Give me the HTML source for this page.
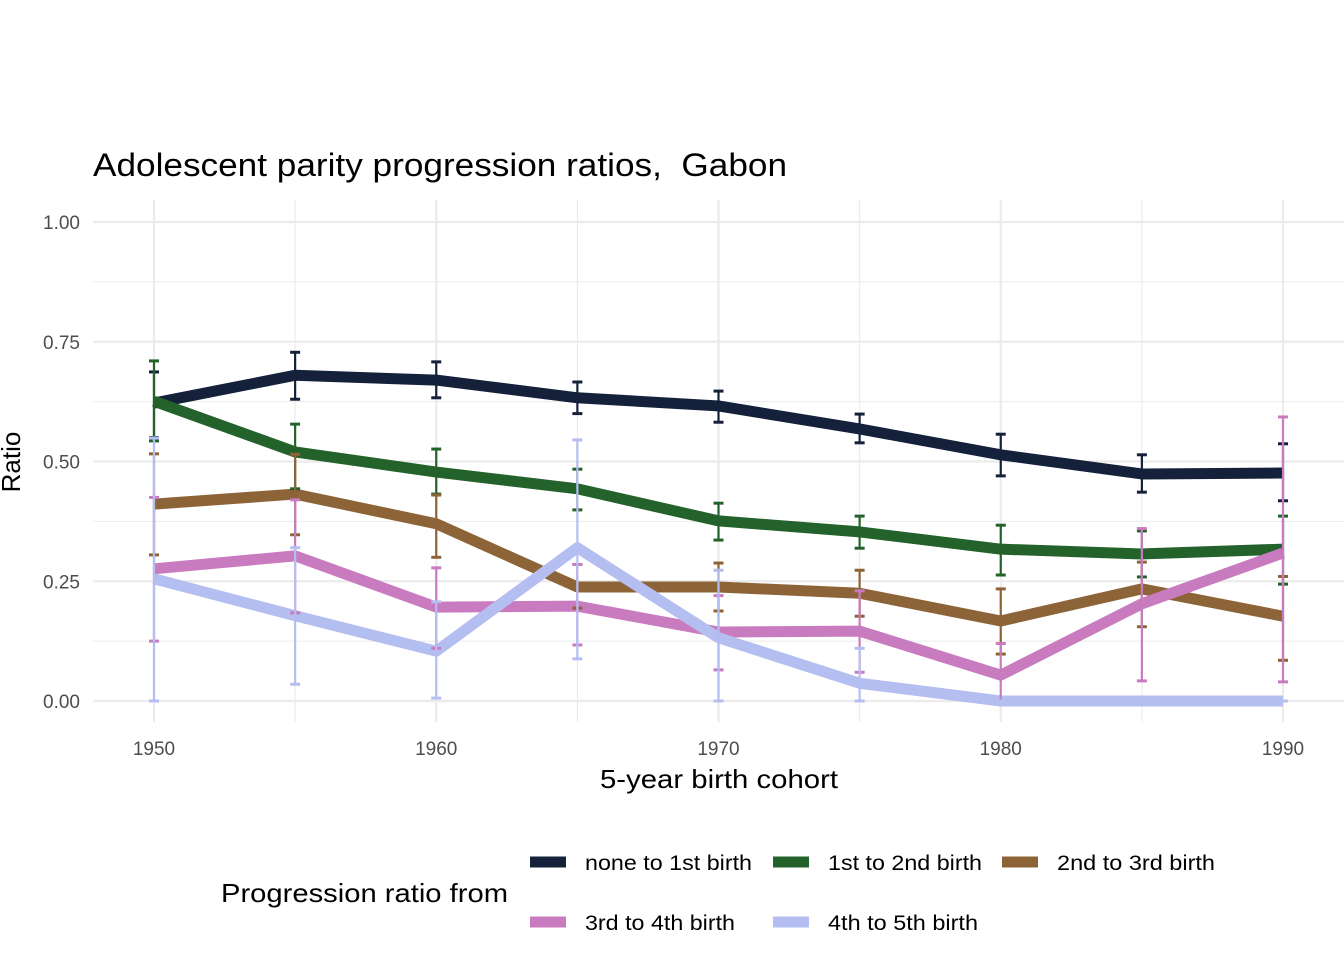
<!DOCTYPE html>
<html><head><meta charset="utf-8"><style>
body{margin:0;background:#fff;width:1344px;height:960px;overflow:hidden;font-family:"Liberation Sans",Arial,sans-serif}
</style></head><body>
<svg id="chart" width="1344" height="960" xmlns="http://www.w3.org/2000/svg">
<text x="93" y="176" font-size="32" fill="#000" textLength="694" lengthAdjust="spacingAndGlyphs">Adolescent parity progression ratios,&#160; Gabon</text>
<g id="grid"></g>
<g id="axes"></g>
<g id="lines"></g>
<g id="bars"></g>
<text x="600" y="788" font-size="26" textLength="238" lengthAdjust="spacingAndGlyphs" fill="#000">5-year birth cohort</text>
<text transform="translate(20,462) rotate(-90)" font-size="26" text-anchor="middle" fill="#000">Ratio</text>
<g id="legend">
<text x="221" y="902" font-size="26" fill="#000" textLength="287" lengthAdjust="spacingAndGlyphs">Progression ratio from</text>
</g>
</svg>
<script>
const cohorts=[1950,1955,1960,1965,1970,1975,1980,1985,1990];
const seriesNames=["none to 1st birth","1st to 2nd birth","2nd to 3rd birth","3rd to 4th birth","4th to 5th birth"];
const colors=["#15213a","#23622b","#8d6438","#c97bbf","#b5bef0"];
const s0=[0.622,0.68,0.67,0.633,0.616,0.568,0.514,0.474,0.476];
const s0hi=[0.687,0.728,0.708,0.666,0.647,0.599,0.557,0.514,0.537];
const s0lo=[0.55,0.63,0.633,0.6,0.582,0.539,0.47,0.436,0.418];
const s1=[0.626,0.52,0.478,0.443,0.376,0.353,0.317,0.307,0.317];
const s1hi=[0.71,0.578,0.526,0.484,0.413,0.386,0.367,0.355,0.386];
const s1lo=[0.543,0.443,0.432,0.399,0.336,0.319,0.263,0.259,0.244];
const s2=[0.411,0.432,0.37,0.238,0.238,0.225,0.167,0.234,0.177];
const s2hi=[0.516,0.515,0.43,0.285,0.288,0.273,0.234,0.29,0.26];
const s2lo=[0.305,0.347,0.30,0.194,0.188,0.177,0.098,0.155,0.085];
const s3=[0.276,0.303,0.196,0.198,0.144,0.146,0.054,0.203,0.309];
const s3hi=[0.425,0.42,0.278,0.285,0.22,0.23,0.12,0.36,0.593];
const s3lo=[0.125,0.184,0.11,0.117,0.065,0.06,0.0,0.042,0.04];
const s4=[0.255,0.178,0.104,0.32,0.132,0.037,0,0,0];
const s4hi=[0.549,0.32,0.207,0.545,0.273,0.11,0,0,0];
const s4lo=[0.0,0.035,0.006,0.088,0.0,0.0,0,0,0];
const yTicks=[0,0.25,0.5,0.75,1.0];
const yTickLabels=["0.00","0.25","0.50","0.75","1.00"];
const xTicks=[1950,1960,1970,1980,1990];
const vals=[s0,s1,s2,s3,s4],his=[s0hi,s1hi,s2hi,s3hi,s4hi],los=[s0lo,s1lo,s2lo,s3lo,s4lo];
const X=v=>154+(v-1950)*(1283-154)/40;
const Y=v=>701-v*479;
const NS="http://www.w3.org/2000/svg";
function mk(t,a,p){const e=document.createElementNS(NS,t);for(const k in a)e.setAttribute(k,a[k]);p.appendChild(e);return e;}
const grid=document.getElementById('grid'),axes=document.getElementById('axes');
for(let v=0;v<=1.0001;v+=0.125){const major=Math.abs(v*4-Math.round(v*4))<1e-6;
const l=mk('line',{x1:93,x2:1344,y1:Y(v),y2:Y(v),stroke:'#ebebeb','stroke-width':major?2.2:1.1},grid);
}
for(let v=1950;v<=1990;v+=5){const major=v%10===0;
const l=mk('line',{x1:X(v),x2:X(v),y1:200,y2:722,stroke:'#ebebeb','stroke-width':major?2.2:1.1},grid);
}
yTicks.forEach((v,i)=>{const t=mk('text',{x:80,y:Y(v)+7,'font-size':19,'text-anchor':'end',fill:'#4d4d4d'},axes);t.textContent=yTickLabels[i];
});
xTicks.forEach(v=>{const t=mk('text',{x:X(v),y:755,'font-size':19,'text-anchor':'middle',fill:'#4d4d4d'},axes);t.textContent=v;
});
const lines=document.getElementById('lines'),bars=document.getElementById('bars');
vals.forEach((s,i)=>{const p=mk('polyline',{points:s.map((v,j)=>X(cohorts[j])+','+Y(v)).join(' '),fill:'none',stroke:colors[i],'stroke-width':11,'stroke-linejoin':'round'},lines);
});
vals.forEach((s,i)=>{cohorts.forEach((c,j)=>{const g=mk('g',{stroke:colors[i],'stroke-width':2.2},bars);

const x=X(c);mk('line',{x1:x,x2:x,y1:Y(his[i][j]),y2:Y(los[i][j])},g);
mk('line',{x1:x-5,x2:x+5,y1:Y(his[i][j]),y2:Y(his[i][j]),'stroke-width':3},g);
mk('line',{x1:x-5,x2:x+5,y1:Y(los[i][j]),y2:Y(los[i][j]),'stroke-width':3},g);});});
const leg=document.getElementById('legend');
const lp=[[530,862],[773,862],[1002,862],[530,922],[773,922]];
const lw=[167,154,158,150,150];
seriesNames.forEach((n,i)=>{const g=mk('g',{},leg);
mk('line',{x1:lp[i][0],x2:lp[i][0]+36,y1:lp[i][1],y2:lp[i][1],stroke:colors[i],'stroke-width':11},g);
const t=mk('text',{x:lp[i][0]+55,y:lp[i][1]+8,'font-size':21,fill:'#000',textLength:lw[i],lengthAdjust:'spacingAndGlyphs'},g);t.textContent=n;});
</script>
</body></html>
